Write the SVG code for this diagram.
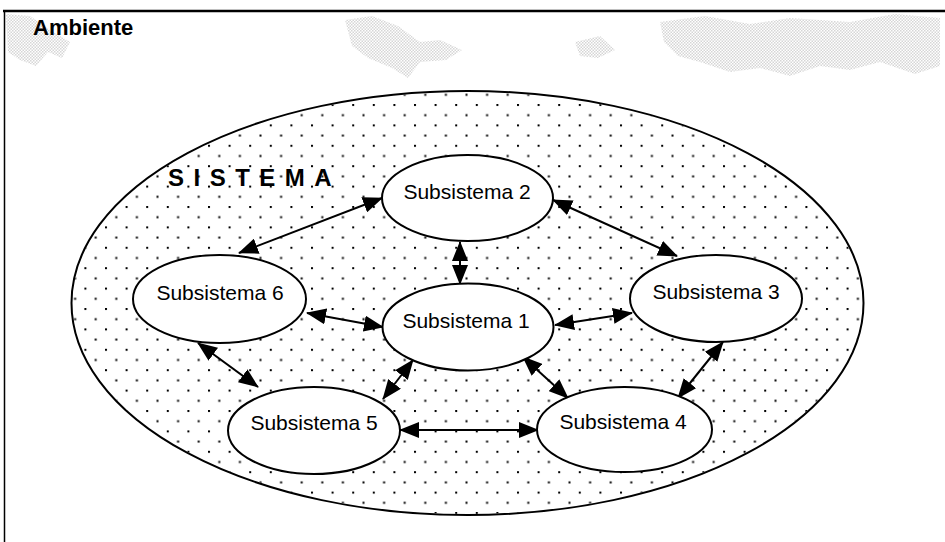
<svg xmlns="http://www.w3.org/2000/svg" width="945" height="542" viewBox="0 0 945 542">
  <style>
    .node { fill: #ffffff; stroke: #000000; stroke-width: 2; }
    .lbl { font-family: "Liberation Sans", Arial, sans-serif; font-size: 21px; fill: #000000; text-anchor: middle; }
    .conn { stroke: #000000; stroke-width: 2; fill: none; marker-start: url(#ah); marker-end: url(#ah); }
    .map { fill: url(#dither); stroke: none; }
  </style>
  <defs>
    <pattern id="dots" patternUnits="userSpaceOnUse" width="20.6" height="20.4" x="2" y="2">
      <rect x="0" y="0" width="2" height="2" fill="#000000"/>
      <rect x="10.3" y="10.2" width="2" height="2" fill="#000000"/>
    </pattern>
    <pattern id="dither" patternUnits="userSpaceOnUse" width="3" height="3">
      <rect x="0" y="0" width="1.5" height="1.5" fill="#8a8a8a"/>
      <rect x="1.5" y="1.5" width="1.5" height="1.5" fill="#8a8a8a"/>
    </pattern>
    <marker id="ah" viewBox="0 0 20 16" refX="19" refY="8" markerWidth="20" markerHeight="16" markerUnits="userSpaceOnUse" orient="auto-start-reverse">
      <path d="M0,0 L20,8 L0,16 z" fill="#000000"/>
    </marker>
  </defs>

  <rect x="0" y="0" width="945" height="542" fill="#ffffff"/>

  <g id="background-map" opacity="0.35">
    <path class="map" d="M6,14 L30,16 L50,30 L70,42 L62,58 L48,52 L36,66 L20,60 L8,52 Z"/>
    <path class="map" d="M345,20 L372,16 L398,26 L420,42 L440,40 L462,50 L446,60 L420,62 L408,78 L392,68 L368,58 L352,46 Z"/>
    <path class="map" d="M660,22 L705,16 L750,24 L790,18 L850,22 L895,14 L940,18 L940,66 L915,74 L880,62 L850,70 L820,66 L790,76 L760,68 L730,72 L700,62 L678,56 L664,42 Z"/>
    <path class="map" d="M575,42 L600,36 L615,50 L598,58 L580,56 Z"/>
  </g>

  <g id="frame">
    <line x1="3" y1="11" x2="945" y2="11" stroke="#000000" stroke-width="2.5"/>
    <line x1="4.5" y1="10" x2="4.5" y2="542" stroke="#000000" stroke-width="1.5"/>
  </g>

  <g id="ambiente-label">
    <text x="33" y="35" font-family="'Liberation Sans', Arial, sans-serif" font-size="22" font-weight="bold" fill="#000000">Ambiente</text>
  </g>

  <g id="sistema">
    <ellipse cx="467.5" cy="303" rx="396" ry="212" fill="#ffffff" stroke="#000000" stroke-width="2"/>
    <ellipse cx="467.5" cy="303" rx="395" ry="211" fill="url(#dots)" stroke="none"/>
    <text x="168" y="186" font-family="'Liberation Sans', Arial, sans-serif" font-size="24" font-weight="bold" letter-spacing="9.5" fill="#000000">SISTEMA</text>
  </g>

  <g id="connectors">
    <line class="conn" x1="382" y1="198" x2="239" y2="253"/>
    <line class="conn" x1="460" y1="242" x2="460" y2="284"/>
    <line class="conn" x1="307" y1="313" x2="383" y2="327"/>
    <line class="conn" x1="555" y1="325" x2="632" y2="313"/>
    <line class="conn" x1="553" y1="200" x2="677" y2="256"/>
    <line class="conn" x1="723" y1="342" x2="678" y2="398"/>
    <line class="conn" x1="523" y1="357" x2="568" y2="398"/>
    <line class="conn" x1="413" y1="360" x2="383" y2="399"/>
    <line class="conn" x1="198" y1="343" x2="258" y2="387"/>
    <line class="conn" x1="400" y1="430" x2="538" y2="430"/>
  </g>

  <g id="subsistema-2">
    <ellipse class="node" cx="467.5" cy="198" rx="85.5" ry="43"/>
    <text class="lbl" x="467" y="199">Subsistema 2</text>
  </g>
  <g id="subsistema-6">
    <ellipse class="node" cx="219.5" cy="299" rx="86.5" ry="44"/>
    <text class="lbl" x="220" y="300">Subsistema 6</text>
  </g>
  <g id="subsistema-1">
    <ellipse class="node" cx="468" cy="327" rx="85.5" ry="43.5"/>
    <text class="lbl" x="466" y="328">Subsistema 1</text>
  </g>
  <g id="subsistema-3">
    <ellipse class="node" cx="716" cy="298.5" rx="86" ry="43.5"/>
    <text class="lbl" x="716" y="299">Subsistema 3</text>
  </g>
  <g id="subsistema-5">
    <ellipse class="node" cx="314" cy="430.5" rx="86" ry="43.5"/>
    <text class="lbl" x="314" y="430">Subsistema 5</text>
  </g>
  <g id="subsistema-4">
    <ellipse class="node" cx="624.5" cy="429.5" rx="87.5" ry="42.5"/>
    <text class="lbl" x="623" y="429">Subsistema 4</text>
  </g>
</svg>
